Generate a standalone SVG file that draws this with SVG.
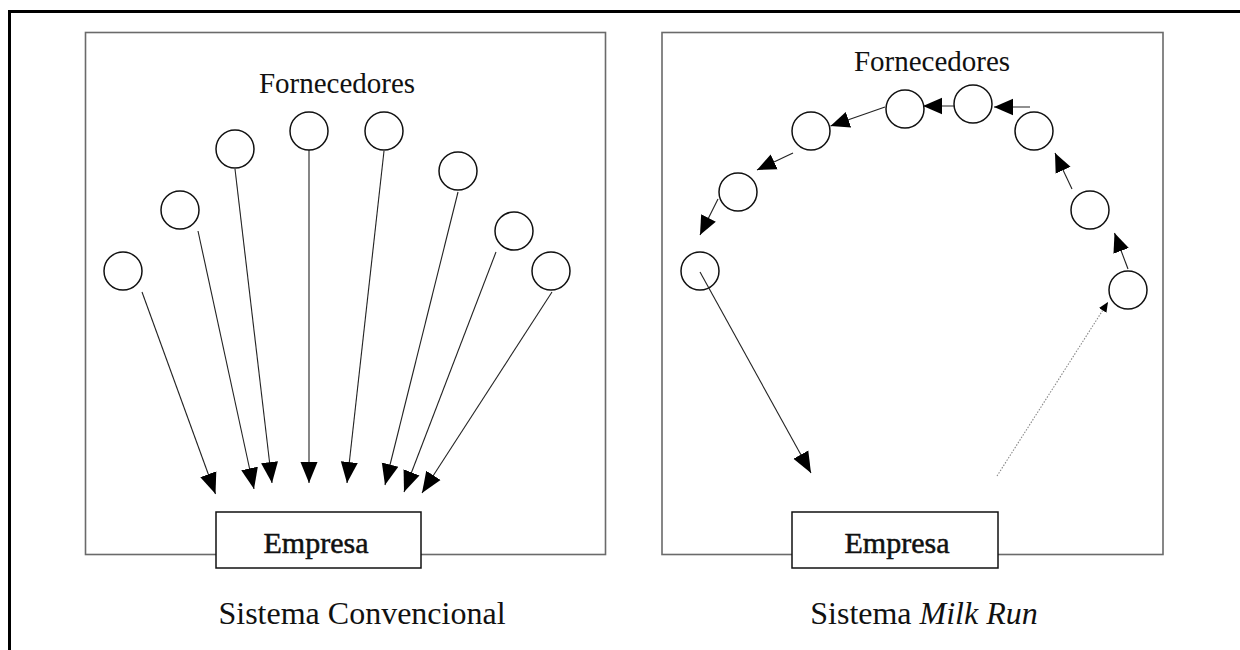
<svg xmlns="http://www.w3.org/2000/svg" width="1240" height="650" viewBox="0 0 1240 650">
<style>
.frame{fill:none;stroke:#000;stroke-width:3}
.panel{fill:none;stroke:#6a6a6a;stroke-width:1.6}
.box{fill:#fff;stroke:#111;stroke-width:1.5}
.sup{fill:#fff;stroke:#111;stroke-width:1.5}
.ln{fill:none;stroke:#222;stroke-width:1.1}
.dot{fill:none;stroke:#888;stroke-width:1.1;stroke-dasharray:1.5 1.5}
.t{font-family:"Liberation Serif","Times New Roman",serif;fill:#111;text-anchor:middle}
.emp{stroke:#111;stroke-width:0.5}
</style>
<defs>
<marker id="big" markerUnits="userSpaceOnUse" markerWidth="22" markerHeight="19" viewBox="0 0 22 19" refX="21" refY="9.5" orient="auto">
<path d="M0,1 L21,9.5 L0,18 Z" fill="#000"/>
</marker>
<marker id="med" markerUnits="userSpaceOnUse" markerWidth="20" markerHeight="18" viewBox="0 0 20 18" refX="19" refY="9" orient="auto">
<path d="M0,0.8 L19,9 L0,17.2 Z" fill="#000"/>
</marker>
<marker id="sm" markerUnits="userSpaceOnUse" markerWidth="11" markerHeight="10" viewBox="0 0 11 10" refX="10" refY="5" orient="auto">
<path d="M0,0.5 L10,5 L0,9.5 Z" fill="#000"/>
</marker>
</defs>
<path class="frame" d="M9.5,650 L9.5,11.5 L1240,11.5"/>
<g id="panel-left">
<rect class="panel" x="85.5" y="32.5" width="520" height="522"/>
<text class="t" x="337" y="93" font-size="29">Fornecedores</text>
</g>
<g id="panel-right">
<rect class="panel" x="662" y="32.5" width="501" height="522"/>
<text class="t" x="932" y="71" font-size="29">Fornecedores</text>
</g>
<g id="connectors">
<line class="ln" x1="142" y1="292" x2="215.5" y2="494" marker-end="url(#big)"/>
<line class="ln" x1="198" y1="231" x2="254" y2="489" marker-end="url(#big)"/>
<line class="ln" x1="235" y1="169" x2="272" y2="483" marker-end="url(#big)"/>
<line class="ln" x1="309" y1="150" x2="309" y2="483" marker-end="url(#big)"/>
<line class="ln" x1="384" y1="151" x2="347" y2="483" marker-end="url(#big)"/>
<line class="ln" x1="458" y1="192" x2="385" y2="485" marker-end="url(#big)"/>
<line class="ln" x1="496" y1="252" x2="404" y2="492" marker-end="url(#big)"/>
<line class="ln" x1="552" y1="292" x2="422" y2="493" marker-end="url(#big)"/>
<line class="dot" x1="997" y1="476" x2="1108" y2="302" marker-end="url(#sm)"/>
<line class="ln" x1="1128" y1="269" x2="1114.5" y2="233" marker-end="url(#med)"/>
<line class="ln" x1="1072" y1="189" x2="1055" y2="153" marker-end="url(#med)"/>
<line class="ln" x1="1030" y1="107" x2="994" y2="107" marker-end="url(#med)"/>
<line class="ln" x1="957" y1="106" x2="923" y2="106" marker-end="url(#med)"/>
<line class="ln" x1="885" y1="107" x2="830.5" y2="126" marker-end="url(#med)"/>
<line class="ln" x1="793" y1="153" x2="757" y2="170" marker-end="url(#med)"/>
<line class="ln" x1="718" y1="199" x2="700" y2="235" marker-end="url(#med)"/>
</g>
<g id="suppliers-left">
<circle class="sup" cx="123" cy="271" r="19"/>
<circle class="sup" cx="180" cy="210" r="19"/>
<circle class="sup" cx="235" cy="149" r="19"/>
<circle class="sup" cx="309" cy="131" r="19"/>
<circle class="sup" cx="384" cy="131" r="19"/>
<circle class="sup" cx="458" cy="171" r="19"/>
<circle class="sup" cx="514" cy="231" r="19"/>
<circle class="sup" cx="551" cy="271" r="19"/>
</g>
<g id="suppliers-right">
<circle class="sup" cx="1128" cy="290" r="19"/>
<circle class="sup" cx="1090" cy="210" r="19"/>
<circle class="sup" cx="1034" cy="131" r="19"/>
<circle class="sup" cx="973" cy="104" r="19"/>
<circle class="sup" cx="905" cy="109" r="19"/>
<circle class="sup" cx="811" cy="131" r="19"/>
<circle class="sup" cx="738" cy="192" r="19"/>
<circle class="sup" cx="700" cy="271" r="19"/>
</g>
<g id="milkrun-return">
<line class="ln" x1="700" y1="272" x2="811" y2="473" marker-end="url(#big)"/>
</g>
<g id="empresa-left">
<rect class="box" x="216" y="512" width="205" height="56"/>
<text class="t emp" x="316" y="553" font-size="30">Empresa</text>
</g>
<g id="empresa-right">
<rect class="box" x="792" y="512" width="206" height="56"/>
<text class="t emp" x="897" y="553" font-size="30">Empresa</text>
</g>
<text class="t" x="362" y="624" font-size="32">Sistema Convencional</text>
<text class="t" x="924" y="624" font-size="32">Sistema <tspan font-style="italic">Milk Run</tspan></text>
</svg>
